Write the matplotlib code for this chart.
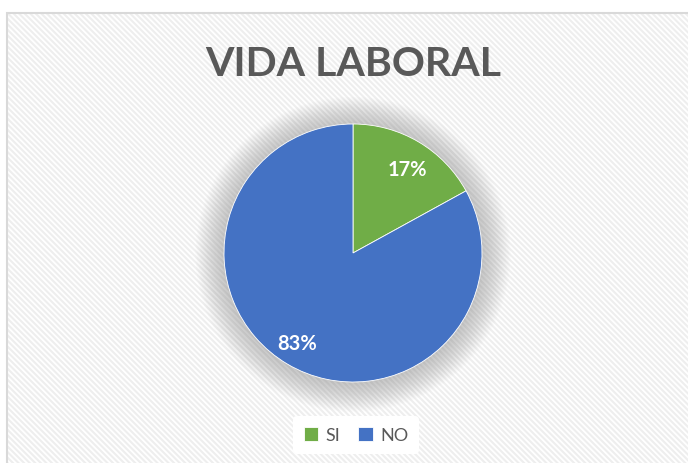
import matplotlib.pyplot as plt
from matplotlib.patches import Rectangle, Circle

labels = ['SI', 'NO']
values = [17, 83]
colors = ['#70ad47', '#4472c4']

plt.rcParams['font.family'] = ['Lato', 'DejaVu Sans']
plt.rcParams['hatch.linewidth'] = 1.5

fig = plt.figure(figsize=(6.88, 4.64), dpi=100)

# chart area with diagonal stripes
bg = Rectangle((7 / 688, -0.02), 1.1, 1 - 14 / 464 + 0.02, transform=fig.transFigure,
               facecolor='white', edgecolor='#eeeeee', hatch='\\\\\\\\\\\\', linewidth=0, zorder=-2)
fig.patches.append(bg)
border = Rectangle((7 / 688, -0.02), 1.1, 1 - 14 / 464 + 0.02, transform=fig.transFigure,
                   facecolor='none', edgecolor='#d9d9d9', linewidth=1.5, zorder=-1)
fig.patches.append(border)

cx, cy, r = 353, 254, 129
ax = fig.add_axes([(cx - r) / 688, (464 - cy - r) / 464, 2 * r / 688, 2 * r / 464])
ax.axis('off')

# soft shadow around the pie
for i in range(20):
    ax.add_patch(Circle((0, -0.01), 1.0 + 0.011 * (20 - i), facecolor='#707070', alpha=0.02,
                        edgecolor='none', zorder=0, clip_on=False))

wedges, texts = ax.pie(values, colors=colors, startangle=90, counterclock=False, radius=1,
                       wedgeprops=dict(linewidth=0.6, edgecolor='white'))
for w in wedges:
    w.set_zorder(2)
ax.set_xlim(-1, 1)
ax.set_ylim(-1, 1)

ax.text(0.42, 0.655, '17%', color='white', fontsize=14.5, fontweight='bold', ha='center', va='center', zorder=3)
ax.text(-0.43, -0.70, '83%', color='white', fontsize=14.5, fontweight='bold', ha='center', va='center', zorder=3)

fig.text(353 / 688, 1 - 65 / 464, 'VIDA LABORAL', color='#595959', fontsize=29.5, fontweight='bold',
         ha='center', va='center')

leg = fig.legend(wedges, labels, loc='center', bbox_to_anchor=(356 / 688, 1 - 436 / 464), ncol=2,
                 frameon=True, fontsize=13, handlelength=0.8, handleheight=0.8, handletextpad=0.4,
                 columnspacing=1.0, borderpad=0.6)
leg.get_frame().set_facecolor('white')
leg.get_frame().set_edgecolor('none')
leg.get_frame().set_alpha(1)
for t in leg.get_texts():
    t.set_color('#595959')

fig.savefig('out.png', dpi=100)
